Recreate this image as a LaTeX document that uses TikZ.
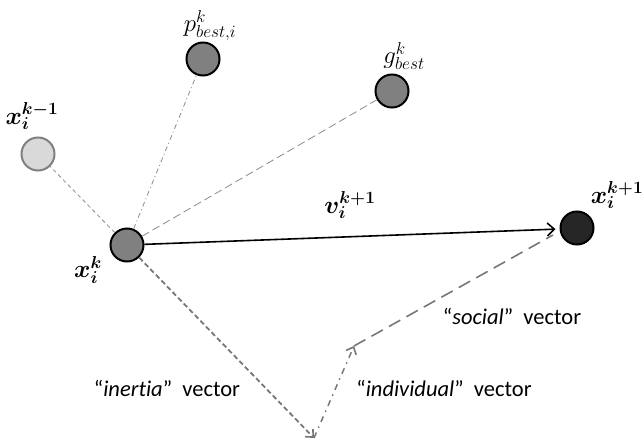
\documentclass[tikz,border=0pt]{standalone}
\usepackage{fontspec}
\usepackage{bm}
\setmainfont[Ligatures=NoCommon]{Carlito}
\usetikzlibrary{arrows.meta}
\definecolor{lgray}{HTML}{D9D9D9}
\definecolor{mgray}{HTML}{808080}
\definecolor{dgray}{HTML}{262626}
\definecolor{lineg}{HTML}{8C8C8C}
\tikzset{
  particle/.style={circle, draw=black, line width=2pt, minimum size=33pt, inner sep=0pt, fill=mgray},
  lbl/.style={inner sep=0pt, font=\fontsize{25}{28}\selectfont},
  txt/.style={inner sep=0pt, font=\fontsize{22.5}{26}\selectfont},
  thin link/.style={draw=lineg, line width=0.8pt},
  vec/.style={draw=lineg!85!black, line width=1.8pt},
  tip/.style={-{Straight Barb[length=6pt,width=11pt,line width=1.6pt]}}
}
\begin{document}
\begin{tikzpicture}[x=1pt,y=-1pt]
\path[use as bounding box] (0,0) rectangle (643,441);
% nodes
\node[particle, fill=lgray, draw=mgray] (xprev) at (38,154) {};
\node[particle] (pbest) at (203,59) {};
\node[particle] (gbest) at (392,91) {};
\node[particle] (xk) at (127,245) {};
\node[particle, fill=dgray] (xnext) at (577,228) {};
\coordinate (a) at (314,438);
\coordinate (b) at (354,346);
\coordinate (c) at (553,235);
% thin links
\draw[thin link, dash pattern=on 4pt off 3pt] (xk) -- (xprev);
\draw[thin link, dash pattern=on 5pt off 3pt on 1pt off 3pt] (xk) -- (pbest);
\draw[thin link, dash pattern=on 8pt off 4pt] (xk) -- (gbest);
% vectors
\draw[vec, dash pattern=on 5pt off 3pt, tip] (xk) -- (a);
\draw[vec, line width=1.5pt, dash pattern=on 6pt off 5pt on 1.5pt off 5pt, tip] (a) -- (b);
\draw[vec, line width=1.6pt, dash pattern=on 13pt off 7pt] (b) -- (c);
\draw[line width=1.6pt, -{Straight Barb[length=7pt,width=13pt,line width=1.6pt]}, shorten >=4pt] (xk) -- (xnext.west |- 0,229);
% labels
\node[lbl] (lxprev) at (32,116) {$\bm{x_i^{k-1}}$};
\node[lbl] (lpbest) at (210,26) {$p_{best,i}^k$};
\node[lbl] (lgbest) at (404,56) {$g_{best}^k$};
\node[lbl] (lxk) at (88,270) {$\bm{x_i^{k}}$};
\node[lbl] (lv) at (350,205) {$\bm{v_i^{k+1}}$};
\node[lbl] (lxnext) at (617,195) {$\bm{x_i^{k+1}}$};
\node[txt] (tin) at (167,388) {“\textit{inertia}”\ \ vector};
\node[txt] (tso) at (512,316) {“\textit{social}”\ \ vector};
\node[txt] (tind) at (444,388) {“\textit{individual}”\ \ vector};
\end{tikzpicture}
\end{document}
